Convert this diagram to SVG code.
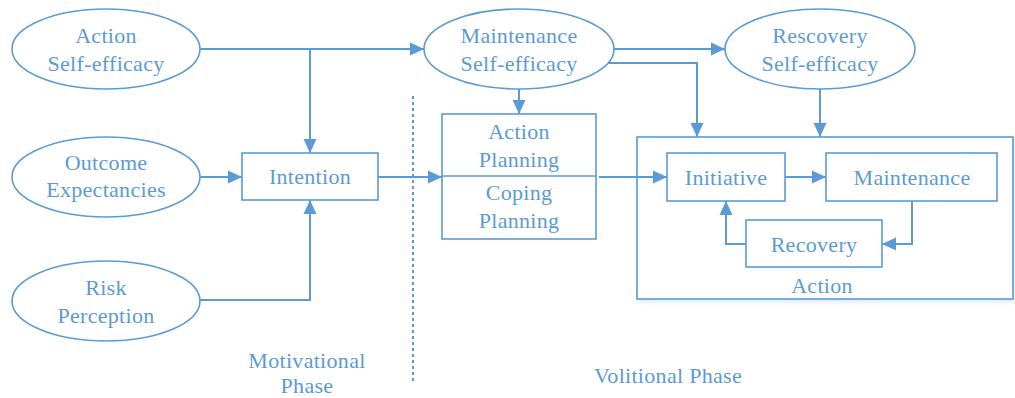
<svg xmlns="http://www.w3.org/2000/svg" width="1015" height="398" viewBox="0 0 1015 398">
<style>
.shape{fill:none;stroke:#5B9BD5;stroke-width:1.6}
.conn{fill:none;stroke:#5B9BD5;stroke-width:2}
text{font-family:"Liberation Serif","Times New Roman",serif;font-size:22px;fill:#5B9BD5;text-anchor:middle;letter-spacing:0.3px}
</style>
<defs>
<marker id="ah" markerUnits="userSpaceOnUse" markerWidth="14" markerHeight="14" viewBox="0 0 14 14" refX="14" refY="7" orient="auto">
<path d="M0,0.5 L14,7 L0,13.5 Z" fill="#5B9BD5"/>
</marker>
<filter id="sh" x="-5%" y="-5%" width="115%" height="115%">
<feDropShadow dx="2" dy="2" stdDeviation="2" flood-color="#9bb8d8" flood-opacity="0.35"/>
</filter>
</defs>
<rect width="1015" height="398" fill="#fff"/>
<g id="phase-divider">
<line x1="413" y1="96" x2="413" y2="383" stroke="#5B9BD5" stroke-width="2" stroke-dasharray="3,3"/>
</g>
<g id="action-container">
<rect x="637" y="137" width="376" height="162" fill="#fff" stroke="#5B9BD5" stroke-width="1.6" filter="url(#sh)"/>
<text x="822" y="293">Action</text>
</g>
<g id="action-self-efficacy">
<ellipse class="shape" cx="106" cy="49" rx="94" ry="40"/>
<text x="106" y="43">Action</text>
<text x="106" y="71">Self-efficacy</text>
</g>
<g id="outcome-expectancies">
<ellipse class="shape" cx="106" cy="177" rx="94" ry="40"/>
<text x="106" y="170">Outcome</text>
<text x="106" y="197">Expectancies</text>
</g>
<g id="risk-perception">
<ellipse class="shape" cx="106" cy="301" rx="94" ry="40"/>
<text x="106" y="295">Risk</text>
<text x="106" y="323">Perception</text>
</g>
<g id="intention">
<rect class="shape" x="242" y="153" width="136" height="47"/>
<text x="310" y="184">Intention</text>
</g>
<g id="maintenance-self-efficacy">
<ellipse class="shape" cx="519" cy="49" rx="95" ry="40"/>
<text x="519" y="43">Maintenance</text>
<text x="519" y="71">Self-efficacy</text>
</g>
<g id="recovery-self-efficacy">
<ellipse class="shape" cx="820" cy="49" rx="95" ry="40"/>
<text x="820" y="43">Rescovery</text>
<text x="820" y="71">Self-efficacy</text>
</g>
<g id="planning">
<rect class="shape" x="442" y="114" width="154" height="125"/>
<line class="shape" x1="442" y1="176" x2="596" y2="176"/>
<text x="519" y="139">Action</text>
<text x="519" y="167">Planning</text>
<text x="519" y="200">Coping</text>
<text x="519" y="228">Planning</text>
</g>
<g id="initiative">
<rect class="shape" x="667" y="153" width="118" height="48"/>
<text x="726" y="185">Initiative</text>
</g>
<g id="maintenance">
<rect class="shape" x="826" y="153" width="171" height="48"/>
<text x="912" y="185">Maintenance</text>
</g>
<g id="recovery">
<rect class="shape" x="746" y="220" width="136" height="47"/>
<text x="814" y="252">Recovery</text>
</g>
<g id="phase-labels">
<text x="307" y="368">Motivational</text>
<text x="307" y="393">Phase</text>
<text x="668" y="383">Volitional Phase</text>
</g>
<g id="connectors">
<path class="conn" d="M200,49 H424" marker-end="url(#ah)"/>
<path class="conn" d="M310,49 V153" marker-end="url(#ah)"/>
<path class="conn" d="M200,177 H242" marker-end="url(#ah)"/>
<path class="conn" d="M200,300 H310 V200" marker-end="url(#ah)"/>
<path class="conn" d="M378,177 H442" marker-end="url(#ah)"/>
<path class="conn" d="M519,89 V114" marker-end="url(#ah)"/>
<path class="conn" d="M614,49 H725" marker-end="url(#ah)"/>
<path class="conn" d="M608,63 H697 V137" marker-end="url(#ah)"/>
<path class="conn" d="M820,89 V137" marker-end="url(#ah)"/>
<path class="conn" d="M599,177 H667" marker-end="url(#ah)"/>
<path class="conn" d="M785,177 H826" marker-end="url(#ah)"/>
<path class="conn" d="M912,201 V244 H882" marker-end="url(#ah)"/>
<path class="conn" d="M746,244 H726 V201" marker-end="url(#ah)"/>
</g>
</svg>
